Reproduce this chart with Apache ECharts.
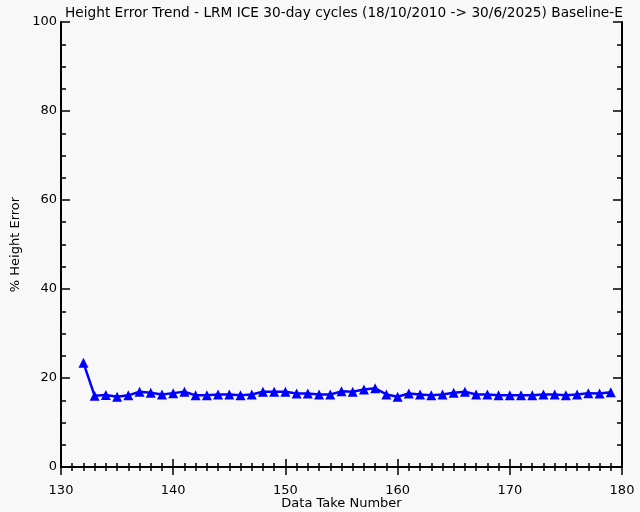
<!DOCTYPE html>
<html><head><meta charset="utf-8">
<script src="https://cdn.jsdelivr.net/npm/echarts@6/dist/echarts.min.js"></script>
<style>html,body{margin:0;padding:0;background:#f8f8f8}#c{width:640px;height:512px}</style>
</head><body><div id="c"></div>
<script>
const dataTake = [132,133,134,135,136,137,138,139,140,141,142,143,144,145,146,147,148,149,150,151,152,153,154,155,156,157,158,159,160,161,162,163,164,165,166,167,168,169,170,171,172,173,174,175,176,177,178,179];
const heightError = [23.4,16.0,16.2,15.8,16.1,16.9,16.7,16.3,16.6,16.9,16.1,16.1,16.3,16.3,16.1,16.3,16.9,16.9,16.9,16.5,16.5,16.3,16.3,17.0,16.9,17.4,17.7,16.3,15.8,16.5,16.3,16.1,16.3,16.7,16.9,16.3,16.3,16.1,16.1,16.1,16.1,16.3,16.3,16.1,16.3,16.6,16.5,16.8];
const titleText = 'Height Error Trend - LRM ICE 30-day cycles (18/10/2010 -> 30/6/2025) Baseline-E';
const font = 'DejaVu Sans';
const points = dataTake.map((d,i)=>[d,heightError[i]]);
const axLine = {show:true, lineStyle:{color:'#000', width:2}};
const chart = echarts.init(document.getElementById('c'), null, {renderer:'canvas'});
chart.setOption({
  backgroundColor:'#f8f8f8',
  animation:false,
  title:{text:titleText, left:60, top:1, textStyle:{fontFamily:font, fontSize:13.7, fontWeight:'normal', color:'#000'}},
  grid:{left:61, right:18, top:22, bottom:45, containLabel:false, outerBoundsMode:'none'},
  xAxis:[
    {type:'value', min:130, max:180, interval:10, position:'bottom',
     name:'Data Take Number', nameLocation:'middle', nameGap:37, nameMoveOverlap:false,
     nameTextStyle:{fontFamily:font, fontSize:13, color:'#000', verticalAlign:'middle'},
     axisLine:axLine, axisTick:{show:true, inside:true, length:8, lineStyle:{color:'#000', width:1.5}},
     minorTick:{show:true, splitNumber:10, length:4, lineStyle:{color:'#000', width:1.5}},
     axisLabel:{fontFamily:font, fontSize:13, color:'#000', margin:17},
     splitLine:{show:false}},
    {type:'value', min:130, max:180, interval:10, position:'top',
     axisLine:axLine, axisTick:{show:true, inside:true, length:8, lineStyle:{color:'#000', width:1.5}},
     minorTick:{show:true, splitNumber:10, length:4, lineStyle:{color:'#000', width:1.5}},
     axisLabel:{show:false}, splitLine:{show:false}}
  ],
  yAxis:[
    {type:'value', min:0, max:100, interval:20, position:'left',
     name:'% Height Error', nameLocation:'middle', nameGap:39, nameRotate:90, nameMoveOverlap:false,
     nameTextStyle:{fontFamily:font, fontSize:13, color:'#000'},
     axisLine:axLine, axisTick:{show:true, inside:true, length:9, lineStyle:{color:'#000', width:1.5}},
     minorTick:{show:true, splitNumber:4, length:5, lineStyle:{color:'#000', width:1.5}},
     axisLabel:{fontFamily:font, fontSize:13, color:'#000', margin:4},
     splitLine:{show:false}},
    {type:'value', min:0, max:100, interval:20, position:'right',
     axisLine:axLine, axisTick:{show:true, inside:true, length:9, lineStyle:{color:'#000', width:1.5}},
     minorTick:{show:true, splitNumber:4, length:5, lineStyle:{color:'#000', width:1.5}},
     axisLabel:{show:false}, splitLine:{show:false}}
  ],
  series:[{type:'line', data:points, xAxisIndex:0, yAxisIndex:0,
    symbol:'triangle', symbolSize:10, showAllSymbol:true,
    lineStyle:{color:'#0000ff', width:2.5}, itemStyle:{color:'#0000ff'}}]
});
</script></body></html>
